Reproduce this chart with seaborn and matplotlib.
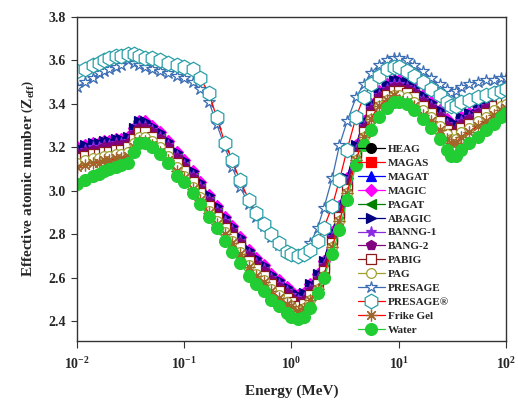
import matplotlib
matplotlib.use("Agg")
import matplotlib.pyplot as plt
import seaborn as sns

# photon energy grid (MeV)
energy = [0.010, 0.012, 0.014, 0.016, 0.018, 0.020, 0.023, 0.026, 0.030, 0.034, 0.038, 0.043, 0.050, 0.060, 0.070, 0.085,
          0.10, 0.12, 0.14, 0.17, 0.20, 0.24, 0.28, 0.33, 0.40, 0.47, 0.55, 0.65, 0.77, 0.90,
          1.0, 1.15, 1.3, 1.5, 1.75, 2.0, 2.4, 2.8, 3.3, 4.0, 4.7, 5.5, 6.5, 7.7, 9.0,
          10, 12, 14, 17, 20, 24, 28, 31, 34, 38, 45, 55, 65, 77, 90, 100]

heag = [3.19, 3.20, 3.21, 3.21, 3.22, 3.22, 3.23, 3.23, 3.24, 3.28, 3.31, 3.31, 3.29, 3.26, 3.22, 3.17,
        3.13, 3.08, 3.03, 2.97, 2.92, 2.87, 2.83, 2.78, 2.72, 2.68, 2.65, 2.61, 2.58, 2.55,
        2.53, 2.51, 2.52, 2.56, 2.61, 2.67, 2.80, 2.92, 3.05, 3.20, 3.31, 3.39, 3.45, 3.48, 3.50,
        3.50, 3.49, 3.47, 3.43, 3.40, 3.36, 3.32, 3.30, 3.30, 3.33, 3.35, 3.38, 3.40, 3.43, 3.45, 3.46]
magas = [3.18, 3.19, 3.20, 3.20, 3.21, 3.21, 3.22, 3.22, 3.23, 3.27, 3.30, 3.30, 3.28, 3.25, 3.21, 3.16,
         3.12, 3.07, 3.02, 2.96, 2.91, 2.86, 2.82, 2.77, 2.71, 2.67, 2.64, 2.60, 2.57, 2.54,
         2.52, 2.50, 2.51, 2.55, 2.60, 2.66, 2.79, 2.91, 3.04, 3.19, 3.30, 3.38, 3.44, 3.47, 3.49,
         3.49, 3.48, 3.46, 3.42, 3.39, 3.35, 3.31, 3.29, 3.29, 3.32, 3.34, 3.37, 3.39, 3.42, 3.44, 3.45]
magat = [3.19, 3.20, 3.21, 3.21, 3.22, 3.22, 3.23, 3.23, 3.24, 3.28, 3.31, 3.31, 3.29, 3.26, 3.22, 3.17,
         3.13, 3.08, 3.03, 2.97, 2.92, 2.87, 2.83, 2.78, 2.72, 2.68, 2.65, 2.61, 2.58, 2.55,
         2.53, 2.51, 2.52, 2.56, 2.61, 2.67, 2.80, 2.92, 3.05, 3.20, 3.31, 3.39, 3.45, 3.48, 3.50,
         3.50, 3.49, 3.47, 3.43, 3.40, 3.36, 3.32, 3.30, 3.30, 3.33, 3.35, 3.38, 3.40, 3.43, 3.45, 3.46]
magic = [3.20, 3.21, 3.22, 3.22, 3.23, 3.23, 3.24, 3.24, 3.25, 3.29, 3.32, 3.32, 3.30, 3.27, 3.23, 3.18,
         3.14, 3.09, 3.04, 2.98, 2.93, 2.88, 2.84, 2.79, 2.73, 2.69, 2.66, 2.62, 2.59, 2.56,
         2.54, 2.52, 2.53, 2.57, 2.62, 2.68, 2.81, 2.93, 3.06, 3.21, 3.32, 3.40, 3.46, 3.49, 3.51,
         3.51, 3.50, 3.48, 3.44, 3.41, 3.37, 3.33, 3.31, 3.31, 3.34, 3.36, 3.39, 3.41, 3.44, 3.46, 3.47]
pagat = [3.17, 3.18, 3.19, 3.19, 3.20, 3.20, 3.21, 3.21, 3.22, 3.26, 3.29, 3.29, 3.27, 3.24, 3.20, 3.15,
         3.11, 3.06, 3.01, 2.95, 2.90, 2.85, 2.81, 2.76, 2.70, 2.66, 2.63, 2.59, 2.56, 2.53,
         2.51, 2.49, 2.50, 2.54, 2.59, 2.65, 2.78, 2.90, 3.03, 3.18, 3.29, 3.37, 3.43, 3.46, 3.48,
         3.48, 3.47, 3.45, 3.41, 3.38, 3.34, 3.30, 3.28, 3.28, 3.31, 3.33, 3.36, 3.38, 3.41, 3.43, 3.44]
abagic = [3.20, 3.21, 3.22, 3.22, 3.23, 3.23, 3.24, 3.24, 3.25, 3.29, 3.32, 3.32, 3.30, 3.27, 3.23, 3.18,
          3.14, 3.09, 3.04, 2.98, 2.93, 2.88, 2.84, 2.79, 2.73, 2.69, 2.66, 2.62, 2.59, 2.56,
          2.54, 2.52, 2.53, 2.57, 2.62, 2.68, 2.81, 2.93, 3.06, 3.21, 3.32, 3.40, 3.46, 3.49, 3.51,
          3.51, 3.50, 3.48, 3.44, 3.41, 3.37, 3.33, 3.31, 3.31, 3.34, 3.36, 3.39, 3.41, 3.44, 3.46, 3.47]
banng1 = [3.18, 3.19, 3.20, 3.20, 3.21, 3.21, 3.22, 3.22, 3.23, 3.27, 3.30, 3.30, 3.28, 3.25, 3.21, 3.16,
          3.12, 3.07, 3.02, 2.96, 2.91, 2.86, 2.82, 2.77, 2.71, 2.67, 2.64, 2.60, 2.57, 2.54,
          2.52, 2.50, 2.51, 2.55, 2.60, 2.66, 2.79, 2.91, 3.04, 3.19, 3.30, 3.38, 3.44, 3.47, 3.49,
          3.49, 3.48, 3.46, 3.42, 3.39, 3.35, 3.31, 3.29, 3.29, 3.32, 3.34, 3.37, 3.39, 3.42, 3.44, 3.45]
bang2 = [3.17, 3.18, 3.19, 3.19, 3.20, 3.20, 3.21, 3.21, 3.22, 3.26, 3.29, 3.29, 3.27, 3.24, 3.20, 3.15,
         3.11, 3.06, 3.01, 2.95, 2.90, 2.85, 2.81, 2.76, 2.70, 2.66, 2.63, 2.59, 2.56, 2.53,
         2.51, 2.49, 2.50, 2.54, 2.59, 2.65, 2.78, 2.90, 3.03, 3.18, 3.29, 3.37, 3.43, 3.46, 3.48,
         3.48, 3.47, 3.45, 3.41, 3.38, 3.34, 3.30, 3.28, 3.28, 3.31, 3.33, 3.36, 3.38, 3.41, 3.43, 3.44]
pabig = [3.15, 3.16, 3.17, 3.17, 3.18, 3.18, 3.19, 3.19, 3.20, 3.24, 3.27, 3.27, 3.25, 3.22, 3.18, 3.13,
         3.09, 3.04, 2.99, 2.93, 2.88, 2.83, 2.79, 2.74, 2.68, 2.64, 2.61, 2.57, 2.54, 2.51,
         2.49, 2.47, 2.48, 2.52, 2.57, 2.63, 2.76, 2.88, 3.01, 3.16, 3.27, 3.35, 3.41, 3.44, 3.46,
         3.46, 3.45, 3.43, 3.39, 3.36, 3.32, 3.28, 3.26, 3.26, 3.29, 3.31, 3.34, 3.36, 3.39, 3.41, 3.42]
pag = [3.13, 3.14, 3.15, 3.15, 3.16, 3.16, 3.17, 3.17, 3.18, 3.22, 3.25, 3.25, 3.23, 3.20, 3.16, 3.11,
       3.07, 3.02, 2.97, 2.91, 2.86, 2.81, 2.77, 2.72, 2.66, 2.62, 2.59, 2.55, 2.52, 2.49,
       2.47, 2.45, 2.46, 2.50, 2.55, 2.61, 2.74, 2.86, 2.99, 3.14, 3.25, 3.33, 3.39, 3.42, 3.44,
       3.44, 3.43, 3.41, 3.37, 3.34, 3.30, 3.26, 3.24, 3.24, 3.27, 3.29, 3.32, 3.34, 3.37, 3.39, 3.40]
presage = [3.48, 3.50, 3.52, 3.54, 3.55, 3.56, 3.57, 3.58, 3.60, 3.59, 3.58, 3.57, 3.56, 3.55, 3.54, 3.53,
           3.52, 3.50, 3.47, 3.41, 3.31, 3.20, 3.11, 3.02, 2.94, 2.88, 2.84, 2.79, 2.75, 2.72,
           2.71, 2.70, 2.72, 2.76, 2.83, 2.92, 3.06, 3.21, 3.32, 3.43, 3.49, 3.54, 3.58, 3.60, 3.61,
           3.61, 3.60, 3.58, 3.55, 3.52, 3.49, 3.47, 3.45, 3.46, 3.48, 3.49, 3.50, 3.51, 3.51, 3.52, 3.52]
presage_r = [3.55, 3.56, 3.58, 3.59, 3.60, 3.61, 3.62, 3.62, 3.63, 3.63, 3.62, 3.61, 3.61, 3.60, 3.59, 3.58,
             3.57, 3.56, 3.52, 3.45, 3.34, 3.22, 3.14, 3.05, 2.96, 2.90, 2.85, 2.80, 2.76, 2.72,
             2.71, 2.70, 2.71, 2.73, 2.77, 2.83, 2.93, 3.05, 3.19, 3.34, 3.43, 3.49, 3.53, 3.56, 3.57,
             3.57, 3.55, 3.53, 3.50, 3.47, 3.44, 3.41, 3.39, 3.39, 3.41, 3.42, 3.43, 3.44, 3.45, 3.46, 3.47]
fricke = [3.11, 3.12, 3.13, 3.13, 3.14, 3.14, 3.15, 3.15, 3.16, 3.20, 3.23, 3.23, 3.21, 3.18, 3.14, 3.09,
          3.06, 3.01, 2.96, 2.90, 2.85, 2.80, 2.76, 2.71, 2.65, 2.61, 2.58, 2.54, 2.51, 2.48,
          2.47, 2.45, 2.46, 2.50, 2.55, 2.61, 2.74, 2.86, 2.99, 3.14, 3.25, 3.33, 3.39, 3.42, 3.44,
          3.42, 3.41, 3.39, 3.35, 3.32, 3.28, 3.24, 3.22, 3.22, 3.25, 3.27, 3.30, 3.32, 3.35, 3.37, 3.38]
water = [3.03, 3.05, 3.07, 3.08, 3.09, 3.10, 3.11, 3.12, 3.13, 3.18, 3.22, 3.22, 3.20, 3.17, 3.13, 3.07,
         3.04, 2.99, 2.94, 2.88, 2.83, 2.77, 2.72, 2.67, 2.61, 2.57, 2.54, 2.50, 2.47, 2.44,
         2.42, 2.41, 2.42, 2.46, 2.53, 2.60, 2.71, 2.82, 2.96, 3.12, 3.21, 3.28, 3.34, 3.38, 3.41,
         3.41, 3.40, 3.37, 3.33, 3.29, 3.24, 3.19, 3.16, 3.16, 3.19, 3.22, 3.25, 3.28, 3.31, 3.34, 3.36]

materials = ['HEAG', 'MAGAS', 'MAGAT', 'MAGIC', 'PAGAT', 'ABAGIC', 'BANNG-1', 'BANG-2',
             'PABIG', 'PAG', 'PRESAGE', 'PRESAGE®', 'Frike Gel', 'Water']
series = [heag, magas, magat, magic, pagat, abagic, banng1, bang2,
          pabig, pag, presage, presage_r, fricke, water]

xticks = [0.01, 0.1, 1, 10, 100]
xtick_labels = [r'$\mathbf{10^{-2}}$', r'$\mathbf{10^{-1}}$', r'$\mathbf{10^{0}}$',
                r'$\mathbf{10^{1}}$', r'$\mathbf{10^{2}}$']
yticks = [2.4, 2.6, 2.8, 3.0, 3.2, 3.4, 3.6, 3.8]

# marker, line colour, marker edge, marker face, marker size
style = {
    'HEAG': ('o', 'black', 'black', 'black', 7),
    'MAGAS': ('s', 'red', 'red', 'red', 6.5),
    'MAGAT': ('^', 'blue', 'blue', 'blue', 7),
    'MAGIC': ('D', '#ff00ff', '#ff00ff', '#ff00ff', 6),
    'PAGAT': ('<', '#008000', '#008000', '#008000', 7),
    'ABAGIC': ('>', '#000080', '#000080', '#000080', 7),
    'BANNG-1': ('*', '#8a2be2', '#8a2be2', '#8a2be2', 8),
    'BANG-2': ('p', '#800080', '#800080', '#800080', 7),
    'PABIG': ('s', '#8b1a1a', '#8b1a1a', 'white', 6.5),
    'PAG': ('o', '#a0a030', '#a0a030', 'white', 7),
    'PRESAGE': ('*', '#3b6db3', '#3b6db3', 'white', 9),
    'PRESAGE®': ('h', 'red', '#2a9fa8', 'white', 10.5),
    'Frike Gel': ((8, 2, 0), 'red', '#a0662a', '#a0662a', 8.5),
    'Water': ('o', '#22cc33', '#22cc33', '#22cc33', 8.5),
}

sns.set_style('ticks')
plt.rcParams['font.family'] = ['Liberation Serif', 'DejaVu Serif']
plt.rcParams['font.weight'] = 'bold'
plt.rcParams['mathtext.fontset'] = 'custom'
plt.rcParams['mathtext.rm'] = 'Liberation Serif:bold'
plt.rcParams['mathtext.bf'] = 'Liberation Serif:bold'
plt.rcParams['mathtext.it'] = 'Liberation Serif:bold:italic'

fig = plt.figure(figsize=(5.18, 4.03), dpi=100)
ax = fig.add_axes([0.1486, 0.1538, 0.8282, 0.8042])

for name, values in zip(materials, series):
    mk, lc, ec, fc, ms = style[name]
    sns.lineplot(x=energy, y=values, ax=ax, label=name, color=lc, marker=mk,
                 markeredgecolor=ec, markerfacecolor=fc, markersize=ms,
                 markeredgewidth=0.9, linewidth=0.9)

ax.set_xscale('log')
ax.set_xlim(0.01, 100)
ax.set_ylim(2.31, 3.8)
ax.set_xticks(xticks)
ax.set_xticklabels(xtick_labels)
ax.minorticks_off()
ax.set_yticks(yticks)
ax.set_yticklabels([f'{v:.1f}' for v in yticks])
ax.tick_params(labelsize=10, length=4, width=0.8, color='#333333', pad=4)
ax.tick_params(axis='x', pad=6, length=5)
for sp in ax.spines.values():
    sp.set_linewidth(1.0)
    sp.set_color('#333333')

ax.set_xlabel('Energy (MeV)', fontsize=11, fontweight='bold', labelpad=9)
ax.set_ylabel(r'Effective atomic number $\left(\mathbf{Z_{eff}}\right)$', fontsize=11,
              fontweight='bold', labelpad=8)

ax.legend(loc='upper left', bbox_to_anchor=(0.655, 0.607), frameon=False,
          prop={'family': 'Liberation Serif', 'weight': 'bold', 'size': 8},
          handlelength=2.4, handletextpad=0.3, labelspacing=0.37,
          borderpad=0, borderaxespad=0, numpoints=1)

fig.savefig('out.png', dpi=100)
